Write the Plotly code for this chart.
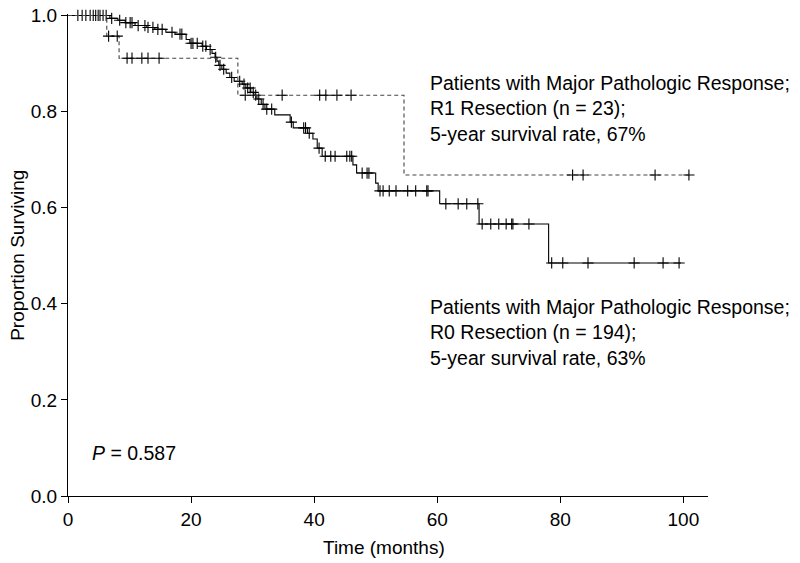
import plotly.graph_objects as go

# R0 resection (solid): step times (months) and survival after each drop
r0_times = [0, 6.8, 8.1, 9.3, 10.9, 12.8, 14.1, 15.9, 17.4, 19.2, 19.8, 21.8, 22.5, 23.4, 23.9,
            24.2, 24.5, 25.0, 25.7, 26.3, 27.0, 28.3, 28.9, 29.7, 30.2, 30.7, 31.4, 32.0,
            33.6, 36.1, 36.6, 38.9, 39.8, 40.5, 41.3, 46.3, 46.9, 50.0, 50.4, 60.4, 66.8, 78.1]
r0_surv = [1.0, 0.994, 0.990, 0.985, 0.979, 0.975, 0.971, 0.965, 0.961, 0.950, 0.942, 0.936,
           0.929, 0.921, 0.913, 0.905, 0.896, 0.888, 0.880, 0.871, 0.863, 0.857, 0.849, 0.840,
           0.834, 0.826, 0.815, 0.805, 0.793, 0.778, 0.766, 0.755, 0.743, 0.724, 0.707, 0.689,
           0.672, 0.651, 0.635, 0.608, 0.566, 0.485]
r0_end = 99.6
r0_censor = [1.6, 2.3, 2.9, 3.6, 4.1, 4.5, 4.9, 5.2, 5.7, 6.2, 7.1, 8.4, 9.4, 10.1, 10.4, 11.4,
             12.5, 13.0, 13.8, 14.6, 15.3, 16.9, 18.2, 18.5, 20.0, 20.3, 21.0, 21.9, 22.4, 23.1,
             24.0, 24.7, 25.3, 26.6, 27.9, 28.6, 29.2, 29.6, 30.1, 30.5, 31.0, 31.7, 32.3, 33.1,
             36.3, 38.3, 38.6, 39.2, 40.8, 41.8, 42.7, 43.4, 45.3, 45.8, 46.1, 47.8, 48.6, 48.9,
             50.7, 51.2, 52.2, 53.3, 55.2, 56.5, 58.3, 58.5, 61.4, 63.4, 64.8, 66.6, 67.3, 68.7,
             70.0, 71.2, 72.1, 72.3, 74.9, 78.6, 80.4, 84.5, 92.0, 96.7, 99.3]

# R1 resection (dashed)
r1_times = [0, 6.3, 8.3, 27.6, 54.6]
r1_surv = [1.0, 0.957, 0.911, 0.834, 0.668]
r1_end = 100.9
r1_censor = [6.6, 8.0, 9.6, 10.4, 12.0, 13.0, 14.8, 28.8, 34.8, 40.9, 41.9, 43.7, 46.0,
             82.0, 83.7, 95.4, 100.9]

x_ticks = [0, 20, 40, 60, 80, 100]
y_ticks = [0.0, 0.2, 0.4, 0.6, 0.8, 1.0]
y_tick_labels = ["0.0", "0.2", "0.4", "0.6", "0.8", "1.0"]


def surv_at(times, surv, t):
    s = surv[0]
    for ti, si in zip(times, surv):
        if ti <= t:
            s = si
    return s


FONT = "Liberation Sans, Arial, sans-serif"
FS = 19

fig = go.Figure()

for times, surv, end, cens, dash, color in [
    (r0_times, r0_surv, r0_end, r0_censor, "solid", "#000000"),
    (r1_times, r1_surv, r1_end, r1_censor, "4px,3px", "#444444"),
]:
    fig.add_trace(go.Scatter(
        x=list(times) + [end], y=list(surv) + [surv[-1]],
        mode="lines", line=dict(shape="hv", color=color, width=1.1, dash=dash),
        hoverinfo="skip", showlegend=False))
    fig.add_trace(go.Scatter(
        x=cens, y=[surv_at(times, surv, t) for t in cens],
        mode="markers", cliponaxis=False,
        marker=dict(symbol="cross-thin", size=8, line=dict(color="#000000", width=1.1)),
        hoverinfo="skip", showlegend=False))

ann_font = dict(family=FONT, size=19.5, color="#000000")
fig.add_annotation(
    x=58.5, y=0.807, xref="x", yref="y", xanchor="left", yanchor="middle", align="left",
    showarrow=False, font=ann_font,
    text="Patients with Major Pathologic Response;<br>R1 Resection (n = 23);<br>5-year survival rate, 67%")
fig.add_annotation(
    x=58.5, y=0.340, xref="x", yref="y", xanchor="left", yanchor="middle", align="left",
    showarrow=False, font=ann_font,
    text="Patients with Major Pathologic Response;<br>R0 Resection (n = 194);<br>5-year survival rate, 63%")
fig.add_annotation(
    x=3.6, y=0.089, xref="x", yref="y", xanchor="left", yanchor="middle",
    showarrow=False, font=ann_font, text="<i>P</i> = 0.587")
# axis titles
title_font = dict(family=FONT, size=FS, color="#000000")
fig.add_annotation(
    x=-0.08, y=0.5, xref="paper", yref="paper", xanchor="center", yanchor="middle",
    textangle=-90, showarrow=False, font=title_font, text="Proportion Surviving")
fig.add_annotation(
    x=0.494, y=-0.106, xref="paper", yref="paper", xanchor="center", yanchor="middle",
    showarrow=False, font=title_font, text="Time (months)")

fig.update_layout(
    width=800, height=563,
    margin=dict(l=68, r=92, t=14, b=67),
    paper_bgcolor="white", plot_bgcolor="white",
    font=dict(family=FONT, size=FS, color="#000000"),
    xaxis=dict(range=[0, 104], tickvals=x_ticks, ticks="outside", ticklen=6, tickcolor="#000",
               showline=True, linecolor="#000", linewidth=1, showgrid=False, zeroline=False,
               automargin=False, tickfont=dict(size=FS), ticklabeloverflow="allow"),
    yaxis=dict(range=[0, 1.003], tickvals=y_ticks, ticktext=y_tick_labels, ticks="outside",
               ticklen=6, tickcolor="#000", showline=True, linecolor="#000", linewidth=1,
               showgrid=False, zeroline=False, automargin=False, tickfont=dict(size=FS),
               ticklabeloverflow="allow"),
)

fig.write_html("out.html", config={"displayModeBar": False},
               post_script="document.body.style.margin='0';document.body.style.overflow='hidden';")
